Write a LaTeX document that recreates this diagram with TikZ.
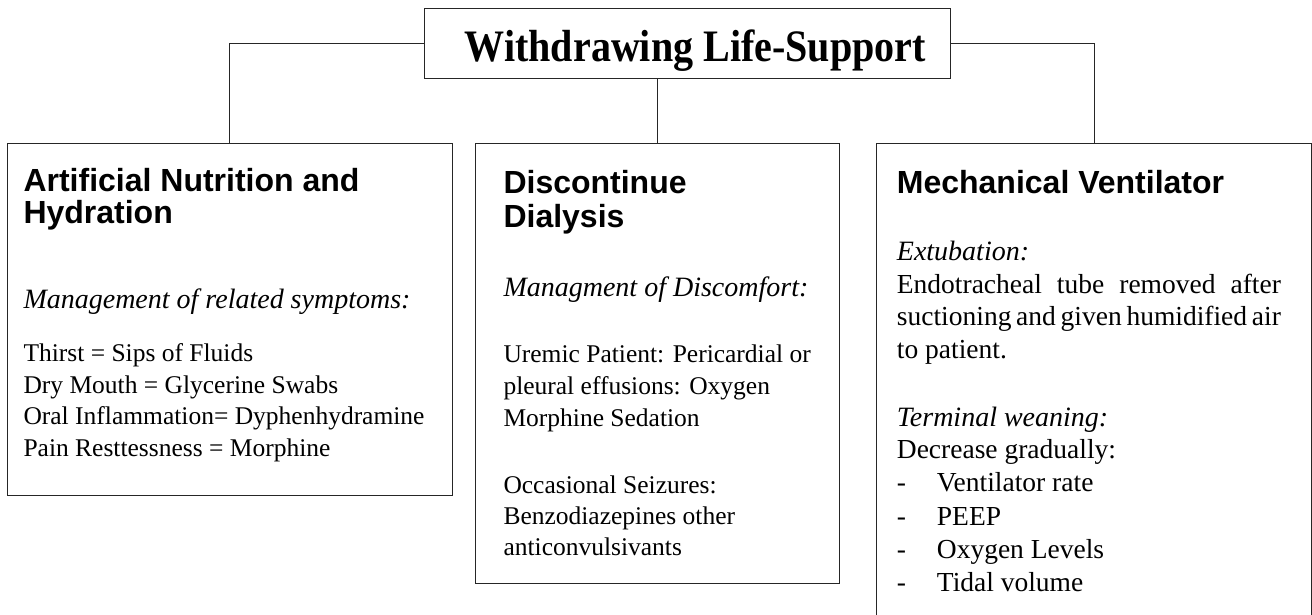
\documentclass[tikz,border=0pt]{standalone}
\usepackage{fontspec}
\setmainfont{Liberation Serif}
\setsansfont{Liberation Sans}
\usepackage{graphicx}

\begin{document}
\begin{tikzpicture}[x=1pt,y=-1pt,
	box/.style={draw=black!85,line width=1.1pt,anchor=north west,inner sep=0pt},
	link/.style={draw=black!85,line width=1.1pt},
	head/.style={anchor=base west,inner sep=0pt,font=\sffamily\bfseries\fontsize{32}{32}\selectfont},
	sub/.style={anchor=base west,inner sep=0pt,font=\itshape\fontsize{28}{33}\selectfont},
	txt/.style={anchor=base west,inner sep=0pt,font=\fontsize{25.5}{31}\selectfont},
	txtb/.style={anchor=base west,inner sep=0pt,font=\fontsize{27.5}{33}\selectfont}]
	\clip (0,0) rectangle (1312,614);

	%boxes
	\node[box,minimum width=525.6,minimum height=70] (title) at (424.1,8.3) {};
	\node[box,minimum width=445,minimum height=351.7] (art) at (6.7,143.3) {};
	\node[box,minimum width=364.3,minimum height=440] (dial) at (475,143.3) {};
	\node[box,minimum width=435.2,minimum height=500] (vent) at (876,143.3) {};

	\draw[link] (title.west) -| (art.north);
	\draw[link] (title.south -| dial.north) -- (dial.north);
	\draw[link] (title.east) -| (vent.north);

	\node[anchor=base,inner sep=0pt,font=\bfseries\fontsize{45}{54}\selectfont] (titletext) at (695.4,61.7) {\scalebox{0.89}[1]{Withdrawing Life-Support}};

	%artificial nutrition
	\node[head] (art-h1) at (23.3,191.7) {Artificial Nutrition and};
	\node[head] (art-h2) at (23.3,223.3) {Hydration};
	\node[sub] (art-s) at (23.3,308) {Management of related symptoms:};
	\foreach \y/\t [count=\i] in {361.7/Thirst = Sips of Fluids, 393.3/Dry Mouth = Glycerine Swabs,
		424.9/Oral Inflammation= Dyphenhydramine, 456.5/Pain Resttessness = Morphine}
		\node[txt] (art-\i) at (23.3,\y) {\t};

	%dialysis
	\node[head] (dial-h1) at (503.3,193.3) {Discontinue};
	\node[head] (dial-h2) at (503.3,227.3) {Dialysis};
	\node[sub] (dial-s) at (503.3,296.7) {Managment of Discomfort:};
	\foreach \y/\t [count=\i] in {362.7/Uremic Patient: Pericardial or, 394.7/pleural effusions: Oxygen,
		426.7/Morphine Sedation, 493/Occasional Seizures:, 524/Benzodiazepines other, 555/anticonvulsivants}
		\node[txt] (dial-\i) at (503.3,\y) {\t};

	%ventilator
	\node[head] (vent-h) at (896.7,193.3) {Mechanical Ventilator};
	\node[sub] (vent-s1) at (896.7,260) {Extubation:};
	\node[txtb] (vent-1) at (896.7,293.3) {\makebox[384pt][s]{Endotracheal tube removed after}};
	\node[txtb] (vent-2) at (896.7,325.7) {\makebox[384pt][s]{suctioning and given humidified air}};
	\node[txtb] (vent-3) at (896.7,358.3) {to patient.};
	\node[sub] (vent-s2) at (896.7,426) {Terminal weaning:};
	\node[txtb] (vent-4) at (896.7,458.3) {Decrease gradually:};
	\foreach \y/\t [count=\i] in {491.7/Ventilator rate, 525/PEEP, 558.3/Oxygen Levels, 591.7/Tidal volume}{
		\node[txtb] (dash-\i) at (896.7,\y) {-};
		\node[txtb] (item-\i) at (936.7,\y) {\t};
	}
\end{tikzpicture}
\end{document}
